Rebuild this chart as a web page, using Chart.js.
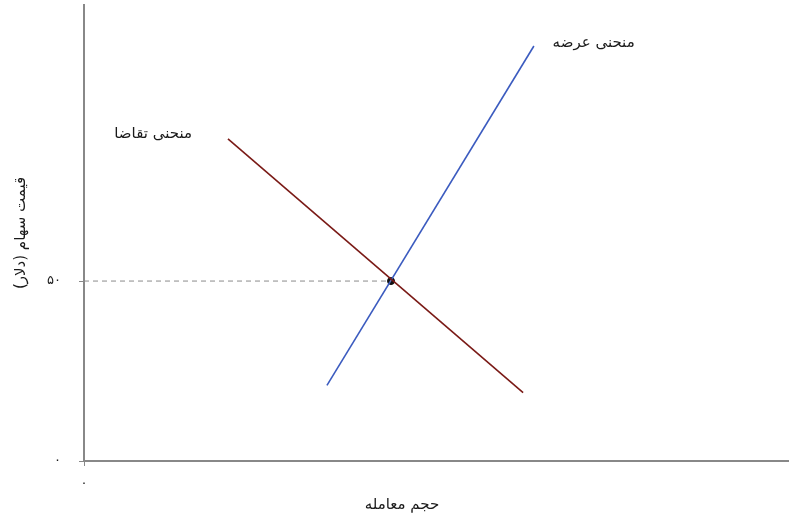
<!DOCTYPE html>
<html lang="fa">
<head>
<meta charset="UTF-8">
<title>عرضه و تقاضا</title>
<script src="https://cdn.jsdelivr.net/npm/chart.js"></script>
<style>
  html, body { margin: 0; padding: 0; background: #fff; }
  #wrap { width: 810px; height: 525px; }
</style>
</head>
<body>
<div id="wrap"><canvas id="graph"></canvas></div>
<script>
// data (x = حجم معامله, y = قیمت)
const demandPoints = [{x: 40, y: 89.5}, {x: 122, y: 19}];
const supplyPoints = [{x: 67.5, y: 21}, {x: 125, y: 115.3}];
const equilibrium = [{x: 85.3, y: 50}];
const priceGuide = [{x: 0, y: 50}, {x: 85.3, y: 50}];

const yTicks = [0, 50];
const yTickLabels = ['۰', '۵۰'];
const xTicks = [0];
const xTickLabels = ['۰'];

const curveLabels = [
    {text: 'منحنی عرضه', x: 141.6, y: 116},
    {text: 'منحنی تقاضا', x: 19.2, y: 90.8}
];
const xTitle = 'حجم معامله';
const yTitle = 'قیمت سهام (دلار)';

const fontFa = '"DejaVu Sans", "Noto Sans", sans-serif';

// curve names + x-axis title
const textPlugin = {
    id: 'textPlugin',
    afterDraw(chart) {
        const c = chart.ctx;
        const xs = chart.scales.x, ys = chart.scales.y;
        c.save();
        c.fillStyle = '#1a1a1a';
        c.font = '15px ' + fontFa;
        c.textAlign = 'center';
        c.textBaseline = 'middle';
        curveLabels.forEach(l => {
            c.fillText(l.text, xs.getPixelForValue(l.x), ys.getPixelForValue(l.y));
        });
        const a = chart.chartArea;
        c.fillText(xTitle, (a.left + a.right) / 2 - 34, a.bottom + 44);
        c.restore();
    }
};

new Chart(document.getElementById('graph'), {
    type: 'scatter',
    data: {
        datasets: [
            {
                data: priceGuide,
                showLine: true,
                borderColor: '#8a8a8a',
                borderWidth: 1,
                borderDash: [5, 4],
                pointRadius: 0
            },
            {
                data: demandPoints,
                showLine: true,
                borderColor: '#7a1a16',
                borderWidth: 1.6,
                pointRadius: 0
            },
            {
                data: supplyPoints,
                showLine: true,
                borderColor: '#3b5bbf',
                borderWidth: 1.6,
                pointRadius: 0
            },
            {
                data: equilibrium,
                pointRadius: 3.5,
                pointBackgroundColor: '#111',
                pointBorderColor: '#111'
            }
        ]
    },
    options: {
        responsive: true,
        maintainAspectRatio: false,
        animation: false,
        layout: { padding: { left: 0, right: 22, top: 5, bottom: 0 } },
        plugins: {
            legend: { display: false },
            tooltip: { enabled: false }
        },
        scales: {
            x: {
                type: 'linear',
                min: 0,
                max: 195.6,
                afterFit(s) {
                    s.height = 64;
                    s.paddingLeft = 0;
                    s.paddingRight = 0;
                },
                afterBuildTicks(s) { s.ticks = xTicks.map(v => ({value: v})); },
                ticks: {
                    padding: 10,
                    color: '#1a1a1a',
                    font: { family: fontFa, size: 13 },
                    callback: (v, i) => xTickLabels[i]
                },
                grid: { drawOnChartArea: false, tickLength: 5, color: '#888' },
                border: { color: '#888', width: 2 }
            },
            y: {
                type: 'linear',
                min: 0,
                max: 126.7,
                afterFit(s) {
                    s.width = 84;
                    s.paddingTop = 0;
                    s.paddingBottom = 0;
                },
                afterBuildTicks(s) { s.ticks = yTicks.map(v => ({value: v})); },
                ticks: {
                    padding: 18,
                    color: '#1a1a1a',
                    font: { family: fontFa, size: 13 },
                    callback: (v, i) => yTickLabels[i]
                },
                title: {
                    display: true,
                    text: yTitle,
                    color: '#1a1a1a',
                    font: { family: fontFa, size: 15 },
                    padding: { top: 12, bottom: 0 }
                },
                grid: { drawOnChartArea: false, tickLength: 5, color: '#888' },
                border: { color: '#888', width: 2 }
            }
        }
    },
    plugins: [textPlugin]
});
</script>
</body>
</html>
